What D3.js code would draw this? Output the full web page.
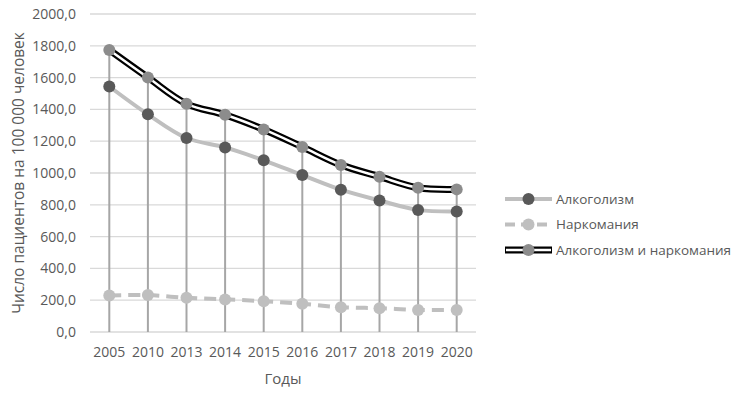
<!DOCTYPE html>
<html>
<head>
<meta charset="utf-8">
<script src="https://cdn.jsdelivr.net/npm/d3@7"></script>
<style>
  html, body { margin: 0; padding: 0; background: #fff; }
  svg text { font-family: "Open Sans", "Noto Sans", sans-serif; fill: #595959; }
</style>
</head>
<body>
<div id="chart"></div>
<script>
// Patients per 100 000 people, by year
const YEARS = ["2005", "2010", "2013", "2014", "2015", "2016", "2017", "2018", "2019", "2020"];
const ALCOHOL = [1544, 1369, 1220, 1161, 1080, 987, 895, 827, 768, 758];
const DRUGS = [230, 232, 215, 205, 194, 177, 156, 150, 139, 139];
const BOTH = [1774, 1601, 1435, 1366, 1274, 1164, 1051, 977, 907, 897];
const Y_TICKS = [0, 200, 400, 600, 800, 1000, 1200, 1400, 1600, 1800, 2000];
const SERIES_LABELS = ["Алкоголизм", "Наркомания", "Алкоголизм и наркомания"];

(function () {
  const width = 741, height = 399;
  const margin = { top: 14, right: 265, bottom: 67, left: 90 };
  const innerWidth = width - margin.left - margin.right;
  const innerHeight = height - margin.top - margin.bottom;

  const svg = d3.select("#chart").append("svg").attr("width", width).attr("height", height);
  const g = svg.append("g").attr("transform", `translate(${margin.left},${margin.top})`);

  const x = d3.scaleBand().domain(YEARS).range([0, innerWidth]);
  const y = d3.scaleLinear().domain([0, 2000]).range([innerHeight, 0]);
  const cx = (d) => x(d) + x.bandwidth() / 2;

  // gridlines
  g.append("g")
    .selectAll("line")
    .data(Y_TICKS)
    .join("line")
    .attr("x1", 0)
    .attr("x2", innerWidth)
    .attr("y1", (d) => y(d))
    .attr("y2", (d) => y(d))
    .attr("stroke", "#d9d9d9")
    .attr("stroke-width", 1.3);

  // y tick labels
  const fmt = (v) => v.toFixed(1).replace(".", ",");
  g.append("g")
    .selectAll("text")
    .data(Y_TICKS)
    .join("text")
    .attr("x", -14)
    .attr("y", (d) => y(d))
    .attr("dy", "0.35em")
    .attr("text-anchor", "end")
    .style("font-size", "14px")
    .text(fmt);

  // x tick labels
  g.append("g")
    .selectAll("text")
    .data(YEARS)
    .join("text")
    .attr("x", cx)
    .attr("y", innerHeight + 25)
    .attr("text-anchor", "middle")
    .style("font-size", "14px")
    .text((d) => d);

  // drop lines from the highest series to the axis
  g.append("g")
    .selectAll("line")
    .data(YEARS)
    .join("line")
    .attr("x1", cx)
    .attr("x2", cx)
    .attr("y1", (d, i) => y(BOTH[i]))
    .attr("y2", innerHeight)
    .attr("stroke", "#a6a6a6")
    .attr("stroke-width", 2);

  const line = (vals) =>
    d3.line()
      .x((d, i) => cx(YEARS[i]))
      .y((d) => y(d))
      .curve(d3.curveCatmullRom.alpha(0.5))(vals);

  // Наркомания (dashed)
  g.append("path")
    .attr("d", line(DRUGS))
    .attr("fill", "none")
    .attr("stroke", "#bfbfbf")
    .attr("stroke-width", 4)
    .attr("stroke-dasharray", "12,7");
  g.append("g")
    .selectAll("circle")
    .data(DRUGS)
    .join("circle")
    .attr("cx", (d, i) => cx(YEARS[i]))
    .attr("cy", (d) => y(d))
    .attr("r", 6)
    .attr("fill", "#bfbfbf");

  // Алкоголизм
  g.append("path")
    .attr("d", line(ALCOHOL))
    .attr("fill", "none")
    .attr("stroke", "#bfbfbf")
    .attr("stroke-width", 4);
  g.append("g")
    .selectAll("circle")
    .data(ALCOHOL)
    .join("circle")
    .attr("cx", (d, i) => cx(YEARS[i]))
    .attr("cy", (d) => y(d))
    .attr("r", 6)
    .attr("fill", "#595959");

  // Алкоголизм и наркомания (double line)
  g.append("path")
    .attr("d", line(BOTH))
    .attr("fill", "none")
    .attr("stroke", "#000")
    .attr("stroke-width", 7);
  g.append("path")
    .attr("d", line(BOTH))
    .attr("fill", "none")
    .attr("stroke", "#fff")
    .attr("stroke-width", 2.5);
  g.append("g")
    .selectAll("circle")
    .data(BOTH)
    .join("circle")
    .attr("cx", (d, i) => cx(YEARS[i]))
    .attr("cy", (d) => y(d))
    .attr("r", 6)
    .attr("fill", "#8c8c8c");

  // axis titles
  svg.append("text")
    .attr("transform", `translate(24,${margin.top + innerHeight / 2}) rotate(-90)`)
    .attr("text-anchor", "middle")
    .style("font-size", "15.5px")
    .text("Число пациентов на 100 000 человек");

  svg.append("text")
    .attr("x", margin.left + innerWidth / 2)
    .attr("y", 384)
    .attr("text-anchor", "middle")
    .style("font-size", "15px")
    .text("Годы");

  // legend
  const legend = svg.append("g").attr("transform", "translate(505,199)");
  const rowH = 25.5;
  SERIES_LABELS.forEach((label, i) => {
    const row = legend.append("g").attr("transform", `translate(0,${i * rowH})`);
    if (i === 0) {
      row.append("line").attr("x1", 0).attr("x2", 47).attr("stroke", "#bfbfbf").attr("stroke-width", 4);
      row.append("circle").attr("cx", 23.5).attr("r", 6).attr("fill", "#595959");
    } else if (i === 1) {
      row.append("line").attr("x1", 0).attr("x2", 47).attr("stroke", "#bfbfbf").attr("stroke-width", 4)
        .attr("stroke-dasharray", "10,6");
      row.append("circle").attr("cx", 23.5).attr("r", 6).attr("fill", "#bfbfbf");
    } else {
      row.append("line").attr("x1", 0).attr("x2", 47).attr("stroke", "#000").attr("stroke-width", 7);
      row.append("line").attr("x1", 1).attr("x2", 46).attr("stroke", "#fff").attr("stroke-width", 2.5);
      row.append("circle").attr("cx", 23.5).attr("r", 6).attr("fill", "#8c8c8c");
    }
    row.append("text")
      .attr("x", 51)
      .attr("dy", "0.35em")
      .style("font-size", "13.5px")
      .text(label);
  });
})();
</script>
</body>
</html>
